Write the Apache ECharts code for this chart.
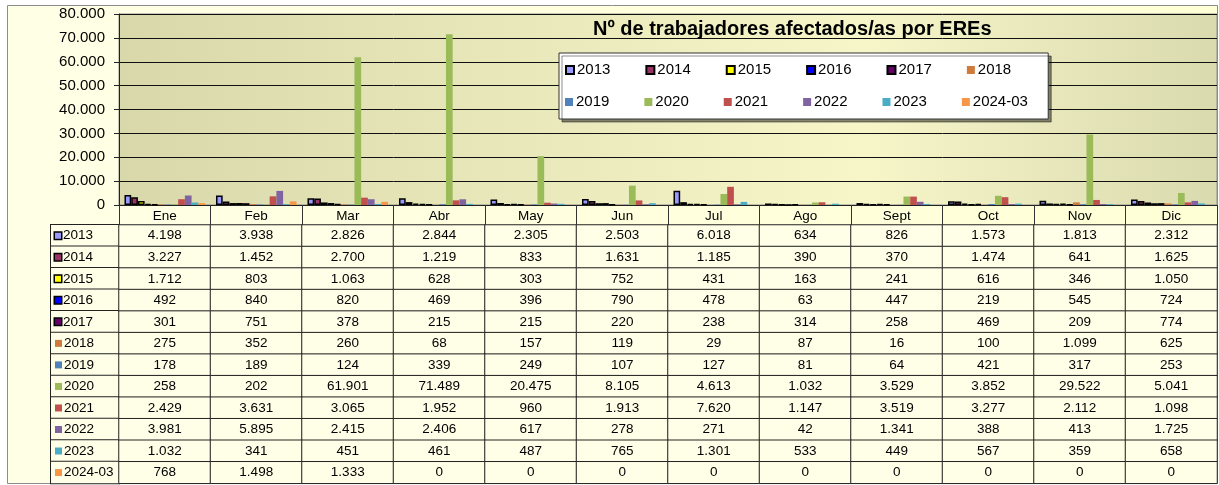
<!DOCTYPE html>
<html><head><meta charset="utf-8">
<script src="https://cdn.jsdelivr.net/npm/echarts@6/dist/echarts.min.js"></script>
<style>html,body{margin:0;padding:0;background:#fff}#c{width:1219px;height:485px}</style>
</head><body><div id="c"></div>
<script>
const months = ['Ene','Feb','Mar','Abr','May','Jun','Jul','Ago','Sept','Oct','Nov','Dic'];
const years = ['2013','2014','2015','2016','2017','2018','2019','2020','2021','2022','2023','2024-03'];
const v2013 = [4198, 3938, 2826, 2844, 2305, 2503, 6018, 634, 826, 1573, 1813, 2312];
const v2014 = [3227, 1452, 2700, 1219, 833, 1631, 1185, 390, 370, 1474, 641, 1625];
const v2015 = [1712, 803, 1063, 628, 303, 752, 431, 163, 241, 616, 346, 1050];
const v2016 = [492, 840, 820, 469, 396, 790, 478, 63, 447, 219, 545, 724];
const v2017 = [301, 751, 378, 215, 215, 220, 238, 314, 258, 469, 209, 774];
const v2018 = [275, 352, 260, 68, 157, 119, 29, 87, 16, 100, 1099, 625];
const v2019 = [178, 189, 124, 339, 249, 107, 127, 81, 64, 421, 317, 253];
const v2020 = [258, 202, 61901, 71489, 20475, 8105, 4613, 1032, 3529, 3852, 29522, 5041];
const v2021 = [2429, 3631, 3065, 1952, 960, 1913, 7620, 1147, 3519, 3277, 2112, 1098];
const v2022 = [3981, 5895, 2415, 2406, 617, 278, 271, 42, 1341, 388, 413, 1725];
const v2023 = [1032, 341, 451, 461, 487, 765, 1301, 533, 449, 567, 359, 658];
const v2024 = [768, 1498, 1333, 0, 0, 0, 0, 0, 0, 0, 0, 0];
const yMin = 0, yMax = 80000, yStep = 10000;
const titleText = 'Nº de trabajadores afectados/as por EREs';

const allValues = [v2013, v2014, v2015, v2016, v2017, v2018, v2019, v2020, v2021, v2022, v2023, v2024];
const colors = ['#9999FF','#993366','#FFFF00','#0000FF','#660066','#CF7B3D','#4F81BD','#9BBB59','#C0504D','#8064A2','#4BACC6','#F79646'];
const bordered = [true, true, true, true, true, false, false, false, false, false, false, false];
const FONT = 'Arial, "Liberation Sans", sans-serif';
const fmt = v => String(v).replace(/\B(?=(\d{3})+(?!\d))/g, '.');

const barSeries = years.map((y, i) => ({
  name: y, type: 'bar', xAxisIndex: 0, yAxisIndex: 0,
  data: allValues[i], barGap: '0%', barCategoryGap: '12%',
  itemStyle: { color: colors[i], borderColor: '#000', borderWidth: bordered[i] ? 1.5 : 0 },
  emphasis: { disabled: true }, silent: true
}));

const cells = [];
allValues.forEach((arr, j) => arr.forEach((v, i) => cells.push([i, j, v])));

const rich = { t: { fontSize: 13.5, color: '#000', fontFamily: FONT, padding: [0, 0, 0, 2], lineHeight: 21.5 } };
colors.forEach((c, i) => {
  rich['m' + i] = bordered[i]
    ? { width: 6, height: 6, backgroundColor: c, borderColor: '#000', borderWidth: 1.5 }
    : { width: 7, height: 7, backgroundColor: c };
});

const chart = echarts.init(document.getElementById('c'), null, { renderer: 'canvas' });
chart.setOption({
  animation: false,
  backgroundColor: '#fff',
  textStyle: { fontFamily: FONT },
  graphic: { elements: [{
    type: 'rect', z: -10, silent: true,
    shape: { x: 7.5, y: 5.5, width: 1210, height: 478 },
    style: { fill: new echarts.graphic.LinearGradient(0, 0, 1, 0, [{offset: 0, color: '#FFFFE6'}, {offset: 1, color: '#FFFFD6'}]), stroke: '#8C8C8C', lineWidth: 1 }
  }]},
  title: {
    text: titleText, left: 593, top: 19, padding: 0,
    textStyle: { fontSize: 20, fontWeight: 'bold', color: '#000', fontFamily: FONT }
  },
  legend: [{
    data: years.slice(0, 6), left: 559, top: 53, orient: 'horizontal',
    itemWidth: 8, itemHeight: 8, itemGap: 35, padding: [9.5, 37, 41.5, 6],
    backgroundColor: '#fff', borderColor: '#333', borderWidth: 1,
    shadowColor: 'rgba(0,0,0,0.45)', shadowOffsetX: 3, shadowOffsetY: 3, shadowBlur: 0,
    icon: 'rect', selectedMode: false,
    textStyle: { fontSize: 15, color: '#000', fontFamily: FONT, padding: [0, 0, 0, -2] }
  }, {
    data: years.slice(6), left: 565, top: 94.5, orient: 'horizontal',
    itemWidth: 8, itemHeight: 8, itemGap: 35, padding: 0,
    icon: 'rect', selectedMode: false,
    textStyle: { fontSize: 15, color: '#000', fontFamily: FONT, padding: [0, 0, 0, -2] }
  }],
  grid: [{
    left: 119, right: 2, top: 14, height: 191, show: true,
    backgroundColor: new echarts.graphic.LinearGradient(0, 0, 1, 0, [
      {offset: 0, color: '#D8D8AB'}, {offset: 0.68, color: '#F6F6C9'}, {offset: 1, color: '#DADAAF'}]),
    borderColor: '#8C8C8C', borderWidth: 1
  }, {
    left: 119, right: 2, top: 225, height: 258.3
  }],
  xAxis: [{
    type: 'category', data: months, gridIndex: 0,
    axisLine: { lineStyle: { color: '#222', width: 1 } },
    axisTick: { show: true, length: 20, lineStyle: { color: '#333', width: 1 } },
    axisLabel: { interval: 0, fontSize: 13.5, color: '#000', margin: 4, fontFamily: FONT },
    splitLine: { show: false }
  }, {
    type: 'category', data: months, gridIndex: 1, show: false
  }],
  yAxis: [{
    type: 'value', gridIndex: 0, min: yMin, max: yMax, interval: yStep,
    axisLine: { show: true, lineStyle: { color: '#222', width: 1 } },
    axisTick: { show: true, length: 5, lineStyle: { color: '#222' } },
    axisLabel: { formatter: fmt, fontSize: 15, color: '#000', margin: 14, fontFamily: FONT },
    splitLine: { lineStyle: { color: '#111', width: 1 } }
  }, {
    type: 'category', data: years, gridIndex: 1, inverse: true,
    axisLine: { show: false }, axisTick: { show: false }, splitLine: { show: false },
    axisLabel: {
      interval: 0, margin: 68, align: 'left', verticalAlign: 'middle',
      backgroundColor: '#FFFFE8', borderColor: '#222', borderWidth: 1,
      width: 64, height: 21.5, padding: [0, 0, 0, 4],
      formatter: (v, i) => '{m' + i + '|}{t|' + v + '}',
      rich: rich
    }
  }],
  series: barSeries.concat([{
    name: 'tabla', type: 'heatmap', xAxisIndex: 1, yAxisIndex: 1, data: cells, silent: true,
    itemStyle: { color: '#FFFFE8', borderColor: '#222', borderWidth: 1 },
    label: { show: true, formatter: p => fmt(p.value[2]), fontSize: 13.5, color: '#000', fontFamily: FONT },
    emphasis: { disabled: true }
  }])
});
</script></body></html>
